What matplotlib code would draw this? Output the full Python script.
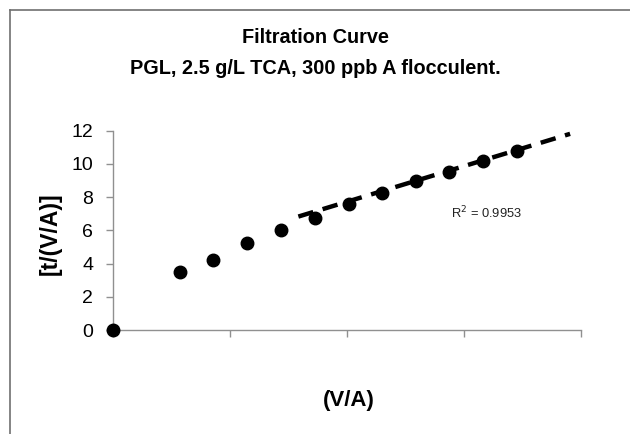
# filtration curve, t/(V/A) vs V/A

import matplotlib
matplotlib.use('Agg')
import matplotlib.pyplot as plt
from matplotlib.lines import Line2D

plt.rcParams['font.family'] = ['Liberation Sans', 'DejaVu Sans']

# V/A (no tick labels in the original, arbitrary units)
v_a = [0.0, 0.575, 0.86, 1.148, 1.436, 1.729, 2.017, 2.302, 2.59, 2.877, 3.168, 3.453]
t_va = [0.0, 3.47, 4.2, 5.22, 6.02, 6.72, 7.59, 8.23, 8.99, 9.49, 10.2, 10.8]

# linear trendline end points
trend_x = [1.586, 3.908]
trend_y = [6.83, 11.81]

titulo = 'Filtration Curve\nPGL, 2.5 g/L TCA, 300 ppb A flocculent.'
r2_txt = 'R$^2$ = 0.9953'

fig = plt.figure(figsize=(6.3, 4.34), dpi=100)
ax = fig.add_axes([0.179, 0.2396, 0.743, 0.4593])

ax.plot(trend_x, trend_y, color='black', lw=3.2, linestyle=(0, (3.5, 2.2)), zorder=2)
ax.plot(v_a, t_va, 'o', color='black', ms=9, clip_on=False, zorder=3)

ax.set_xlim(0, 4)
ax.set_ylim(0, 12)
ax.set_yticks(range(0, 13, 2))
ax.set_xticks([0, 1, 2, 3, 4])
ax.set_xticklabels([])

for s in ['top', 'right']:
    ax.spines[s].set_visible(False)
for s in ['left', 'bottom']:
    ax.spines[s].set_color('#909090')
    ax.spines[s].set_linewidth(1.0)
ax.tick_params(axis='both', colors='#909090', length=5, width=1, labelsize=14, labelcolor='black')
ax.tick_params(axis='y', pad=9)

ax.text(2.89, 7.05, r2_txt, fontsize=9.3, color='#222222', va='center')

fig.text(0.5, 0.877, titulo, ha='center', va='center', fontsize=14.3,
         fontweight='bold', linespacing=1.8)
fig.text(0.079, 0.461, '[t/(V/A)]', rotation=90, ha='center', va='center',
         fontsize=16.5, fontweight='bold')
fig.text(0.553, 0.078, '(V/A)', ha='center', va='center', fontsize=16, fontweight='bold')

# marco do grafico (so esquerda e topo aparecem)
fig.add_artist(Line2D([10 / 630, 10 / 630], [0, 1 - 10 / 434], color='#707070', lw=1.2))
fig.add_artist(Line2D([10 / 630, 1], [1 - 10 / 434, 1 - 10 / 434], color='#707070', lw=1.2))

fig.savefig('out.png', dpi=100)
